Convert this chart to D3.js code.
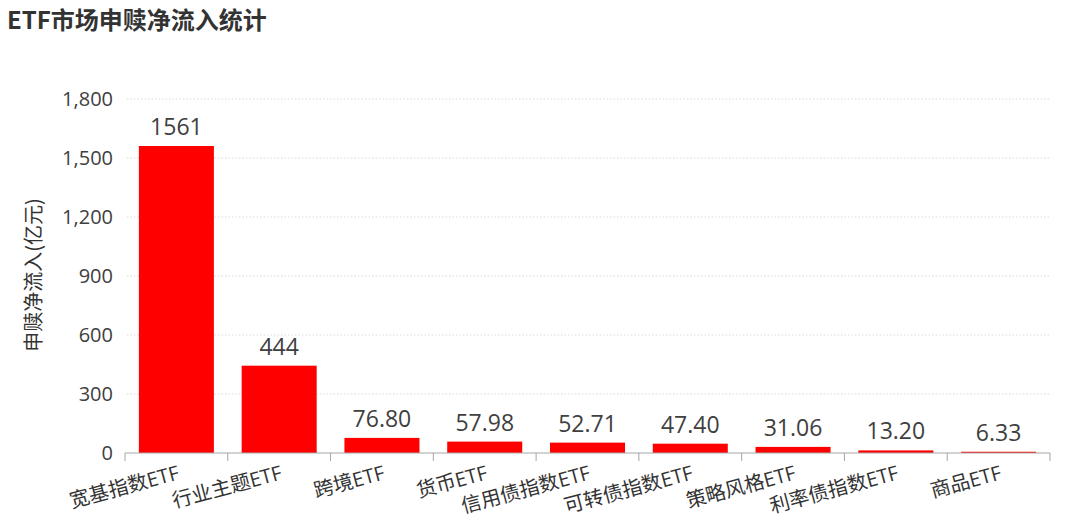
<!DOCTYPE html>
<html>
<head>
<meta charset="utf-8">
<script src="https://cdn.jsdelivr.net/npm/d3@7"></script>
<style>
  html,body{margin:0;padding:0;background:#fff;}
  svg{display:block;font-family:"Open Sans","Noto Sans CJK SC",sans-serif;}
</style>
</head>
<body>
<div id="chart"></div>
<script>
// ETF 申赎净流入 bar chart
const categories = ['宽基指数ETF','行业主题ETF','跨境ETF','货币ETF','信用债指数ETF','可转债指数ETF','策略风格ETF','利率债指数ETF','商品ETF'];
const values = [1561, 444, 76.80, 57.98, 52.71, 47.40, 31.06, 13.20, 6.33];
const valueLabels = ['1561','444','76.80','57.98','52.71','47.40','31.06','13.20','6.33'];
const yTicks = [0, 300, 600, 900, 1200, 1500, 1800];

const W = 1080, H = 519;
const m = {t:99, r:30, b:66, l:125};
const svg = d3.select('#chart').append('svg').attr('width',W).attr('height',H);

svg.append('text').attr('x',7).attr('y',29).attr('font-size',24).attr('font-weight',700)
  .attr('fill','#333').attr('font-family','"Noto Sans CJK SC",sans-serif').text('ETF市场申赎净流入统计');

const x0 = d3.scaleBand().domain(categories).range([m.l, W-m.r]);           // tick slots
const x = d3.scaleBand().domain(categories).range([m.l, W-m.r]).paddingInner(0.27).paddingOuter(0.135);
const y = d3.scaleLinear().domain([0,1800]).range([H-m.b, m.t]);

// grid lines (dotted)
svg.append('g').selectAll('line').data(yTicks.filter(d=>d>0)).join('line')
  .attr('x1',m.l+2).attr('x2',W-m.r).attr('y1',d=>y(d)).attr('y2',d=>y(d))
  .attr('stroke','#d9d9d9').attr('stroke-width',1).attr('stroke-dasharray','1.5 2');

// y axis labels
svg.append('g').attr('transform',`translate(${m.l},0)`)
  .call(d3.axisLeft(y).tickValues(yTicks).tickSize(0).tickPadding(12).tickFormat(d3.format(',')))
  .call(g=>g.select('.domain').remove())
  .call(g=>g.selectAll('text').attr('font-size',20).attr('fill','#404040').attr('font-family','"Open Sans",sans-serif'));

svg.append('text').attr('transform',`translate(41,${(y(0)+y(1800))/2-1}) rotate(-90)`)
  .attr('text-anchor','middle').attr('font-size',20).attr('fill','#333')
  .attr('font-family','"Noto Sans CJK SC",sans-serif').text('申赎净流入(亿元)');

// bars
svg.append('g').selectAll('rect').data(values).join('rect')
  .attr('x',(d,i)=>x(categories[i])).attr('width',x.bandwidth())
  .attr('y',d=>y(d)).attr('height',d=>y(0)-y(d)).attr('fill','#ff0000');

// value labels
svg.append('g').selectAll('text').data(values).join('text')
  .attr('x',(d,i)=>x(categories[i])+x.bandwidth()/2).attr('y',d=>y(d)-11)
  .attr('text-anchor','middle').attr('font-size',23).attr('fill','#404040')
  .text((d,i)=>valueLabels[i]);

// x axis baseline and slot ticks
const base = y(0);
svg.append('line').attr('x1',m.l).attr('x2',W-m.r).attr('y1',base).attr('y2',base).attr('stroke','#a6a6a6');
const bounds = categories.map(c=>x0(c)).concat([W-m.r]);
svg.append('g').selectAll('line').data(bounds).join('line')
  .attr('x1',d=>d).attr('x2',d=>d).attr('y1',base).attr('y2',base+8).attr('stroke','#a6a6a6');

// x labels rotated
svg.append('g').selectAll('text').data(categories).join('text')
  .attr('transform',d=>`translate(${x0(d)+x0.bandwidth()/2+4},${base+26}) rotate(-15)`)
  .attr('text-anchor','end').attr('font-size',20).attr('fill','#333')
  .text(d=>d);
</script>
</body>
</html>
